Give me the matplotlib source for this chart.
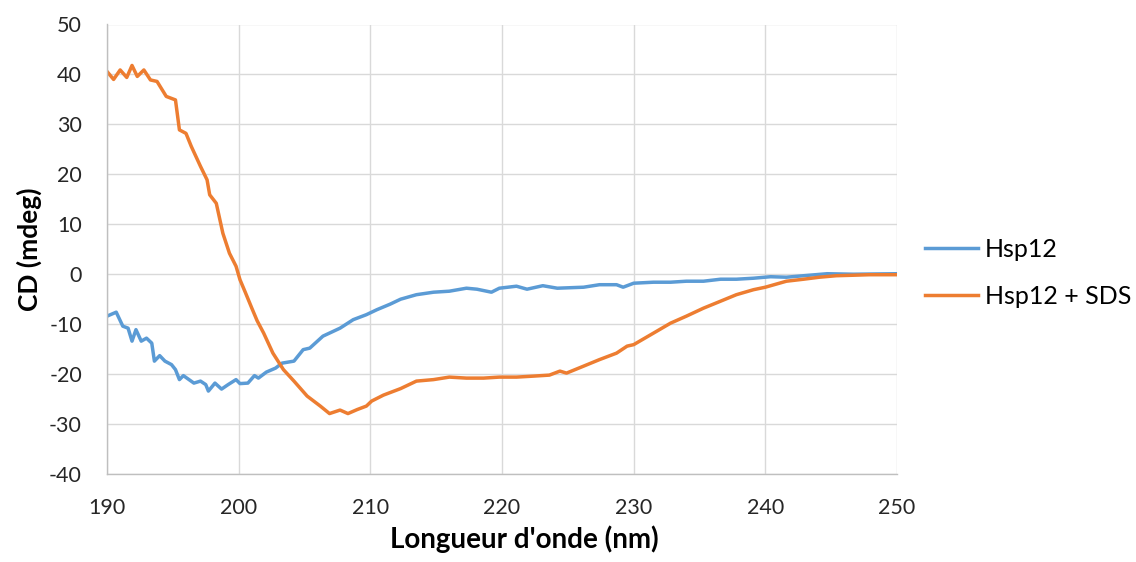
import matplotlib
matplotlib.use("Agg")
import matplotlib.pyplot as plt

# Hsp12 + SDS (orange)
wl_sds = [190.0, 190.5, 191.0, 191.5, 191.9, 192.3, 192.8, 193.3, 193.8, 194.5, 195.2, 195.5,
          196.0, 196.4, 197.1, 197.6, 197.8, 198.3, 198.8, 199.3, 199.8, 200.1, 200.5, 201.0,
          201.4, 201.9, 202.6, 203.4, 204.2, 205.2, 206.2, 206.9, 207.7, 208.3, 209.0, 209.7,
          210.1, 211.0, 212.3, 213.5, 214.8, 216.0, 217.3, 218.6, 219.8, 221.1, 222.4, 223.6,
          224.4, 224.9, 226.2, 227.4, 228.7, 229.5, 230.0, 231.5, 232.8, 234.0, 235.3, 236.6,
          237.8, 239.1, 240.0, 241.6, 242.9, 244.1, 245.4, 246.7, 247.9, 250.0]
cd_sds = [40.6, 39.0, 40.9, 39.4, 41.8, 39.6, 40.9, 38.9, 38.6, 35.6, 34.9, 28.9,
          28.2, 25.6, 21.6, 18.9, 15.9, 14.2, 8.2, 4.2, 1.6, -1.1, -3.6, -6.8,
          -9.3, -11.8, -15.8, -19.1, -21.4, -24.4, -26.4, -27.9, -27.2, -27.9, -27.1, -26.4,
          -25.4, -24.2, -22.9, -21.4, -21.1, -20.6, -20.8, -20.8, -20.6, -20.6, -20.4, -20.2,
          -19.4, -19.8, -18.4, -17.1, -15.8, -14.4, -14.1, -11.8, -9.8, -8.4, -6.8, -5.4,
          -4.1, -3.1, -2.6, -1.4, -1.0, -0.6, -0.3, -0.2, -0.1, -0.1]

# Hsp12 (blue)
wl_hsp = [190.0, 190.7, 191.2, 191.6, 191.9, 192.2, 192.6, 193.0, 193.4, 193.6, 194.0, 194.4,
          194.9, 195.2, 195.5, 195.8, 196.6, 197.1, 197.5, 197.7, 198.2, 198.7, 199.2, 199.8,
          200.1, 200.7, 201.2, 201.5, 202.1, 202.8, 203.3, 204.2, 204.9, 205.4, 206.4, 207.7,
          208.7, 209.7, 210.5, 211.5, 212.3, 213.5, 214.8, 216.0, 217.3, 218.1, 219.2, 219.8,
          221.1, 221.9, 223.1, 224.2, 226.2, 227.4, 228.7, 229.2, 230.0, 231.5, 232.8, 234.0,
          235.3, 236.6, 237.8, 239.1, 240.4, 241.6, 242.9, 244.7, 246.7, 250.0]
cd_hsp = [-8.4, -7.6, -10.4, -10.8, -13.4, -11.1, -13.4, -12.8, -13.8, -17.4, -16.3, -17.4,
          -18.1, -19.1, -21.1, -20.3, -21.8, -21.4, -22.1, -23.4, -21.8, -23.0, -22.1, -21.1,
          -21.9, -21.8, -20.3, -20.8, -19.6, -18.8, -17.8, -17.4, -15.1, -14.8, -12.4, -10.8,
          -9.1, -8.1, -7.1, -6.0, -5.0, -4.1, -3.6, -3.4, -2.8, -3.0, -3.6, -2.8,
          -2.4, -3.0, -2.3, -2.8, -2.6, -2.1, -2.1, -2.6, -1.8, -1.6, -1.6, -1.4,
          -1.4, -1.0, -1.0, -0.8, -0.5, -0.6, -0.3, 0.1, 0.0, 0.1]

labels = ["Hsp12", "Hsp12 + SDS"]
colors = ["#5B9BD5", "#ED7D31"]
xticks = [190, 200, 210, 220, 230, 240, 250]
yticks = [-40, -30, -20, -10, 0, 10, 20, 30, 40, 50]

plt.rcParams['font.family'] = ['Lato', 'DejaVu Sans']
plt.rcParams['axes.unicode_minus'] = False

fig = plt.figure(figsize=(11.36, 5.62), dpi=100)
ax = fig.add_axes([107/1136, 1 - 474/562, (897-107)/1136, (474-24.5)/562])

l1, = ax.plot(wl_hsp, cd_hsp, color=colors[0], lw=2.5, solid_joinstyle='round')
l2, = ax.plot(wl_sds, cd_sds, color=colors[1], lw=2.5, solid_joinstyle='round')

ax.set_xlim(190, 250)
ax.set_ylim(-40, 50)
ax.set_xticks(xticks)
ax.set_yticks(yticks)
ax.grid(True, color="#d9d9d9", lw=1.0)
ax.set_axisbelow(True)
for s in ["top", "right"]:
    ax.spines[s].set_visible(False)
for s in ["left", "bottom"]:
    ax.spines[s].set_color("#bfbfbf")
    ax.spines[s].set_linewidth(1.0)
ax.tick_params(length=0, labelsize=15.5, colors="#262626")
ax.tick_params(axis='x', pad=17)
ax.tick_params(axis='y', pad=18)

ax.set_xlabel("Longueur d'onde (nm)", fontsize=20, fontweight='bold', color="#000000", labelpad=4)
ax.xaxis.set_label_coords((524 - 107) / 790, -0.115)
ax.set_ylabel("CD (mdeg)", fontsize=19, fontweight='bold', color="#000000", labelpad=5)

fig.legend([l1, l2], labels, loc='center left', bbox_to_anchor=(925/1136, 1 - 273/562),
           frameon=False, fontsize=18, handlelength=2.1, labelspacing=0.95,
           handletextpad=0.3, borderpad=0, borderaxespad=0)

fig.savefig("out.png", dpi=100)
